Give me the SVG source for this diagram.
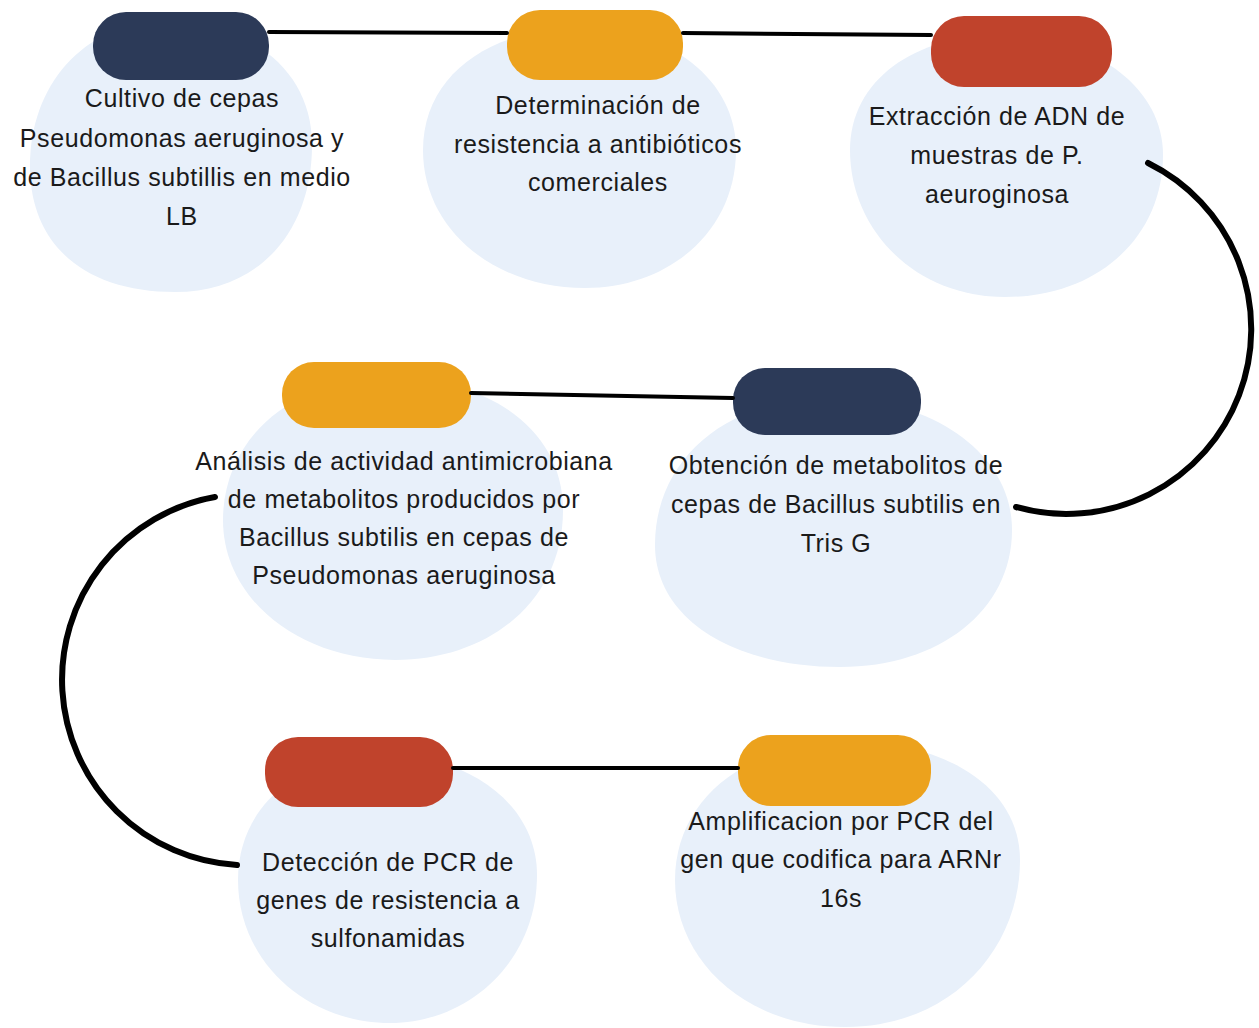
<svg xmlns="http://www.w3.org/2000/svg" width="1259" height="1028" viewBox="0 0 1259 1028">
<style>
.blob{fill:#e8f0fa}
.navy{fill:#2c3a58}
.orange{fill:#eca21d}
.red{fill:#c0432c}
.t{font-family:"Liberation Sans",Arial,sans-serif;font-size:25px;fill:#1a1a1a;text-anchor:middle;letter-spacing:0.6px}
.ln{fill:none;stroke:#000;stroke-width:4;stroke-linecap:round}
.cv{fill:none;stroke:#000;stroke-width:6;stroke-linecap:round}
</style>
<rect width="1259" height="1028" fill="#ffffff"/>
<g id="node1">
<path class="blob" d="M30,170 C28,90 80,22 165,22 C250,22 312,70 312,145 C312,230 260,292 175,292 C90,292 32,250 30,170 Z"/>
<rect class="navy" x="93" y="12" width="176" height="68" rx="33"/>
<text class="t" x="182" y="107">Cultivo de cepas</text>
<text class="t" x="182" y="147">Pseudomonas aeruginosa y</text>
<text class="t" x="182" y="186">de Bacillus subtillis en medio</text>
<text class="t" x="182" y="225">LB</text>
</g>
<g id="node2">
<path class="blob" d="M423,150 C423,75 490,28 580,28 C670,28 736,80 736,150 C736,230 670,288 585,288 C495,288 423,230 423,150 Z"/>
<rect class="orange" x="507" y="10" width="176" height="70" rx="33"/>
<text class="t" x="598" y="114">Determinación de</text>
<text class="t" x="598" y="153">resistencia a antibióticos</text>
<text class="t" x="598" y="191">comerciales</text>
</g>
<g id="node3">
<path class="blob" d="M850,150 C850,80 915,35 1000,35 C1090,35 1163,85 1163,155 C1163,235 1100,297 1005,297 C915,297 850,230 850,150 Z"/>
<rect class="red" x="931" y="16" width="181" height="71" rx="33"/>
<text class="t" x="997" y="125">Extracción de ADN de</text>
<text class="t" x="997" y="164">muestras de P.</text>
<text class="t" x="997" y="203">aeuroginosa</text>
</g>
<g id="node4">
<path class="blob" d="M223,520 C223,440 290,378 390,378 C490,378 563,430 563,510 C563,600 490,660 395,660 C300,660 223,600 223,520 Z"/>
<rect class="orange" x="282" y="362" width="189" height="66" rx="32"/>
<text class="t" x="404" y="470">Análisis de actividad antimicrobiana</text>
<text class="t" x="404" y="508">de metabolitos producidos por</text>
<text class="t" x="404" y="546">Bacillus subtilis en cepas de</text>
<text class="t" x="404" y="584">Pseudomonas aeruginosa</text>
</g>
<g id="node5">
<path class="blob" d="M655,545 C655,460 725,398 830,398 C935,398 1012,455 1012,530 C1012,610 940,667 840,667 C735,667 655,620 655,545 Z"/>
<rect class="navy" x="733" y="368" width="188" height="67" rx="32"/>
<text class="t" x="836" y="474">Obtención de metabolitos de</text>
<text class="t" x="836" y="513">cepas de Bacillus subtilis en</text>
<text class="t" x="836" y="552">Tris G</text>
</g>
<g id="node6">
<path class="blob" d="M238,880 C238,805 300,755 385,755 C470,755 537,805 537,875 C537,960 470,1023 390,1023 C305,1023 238,960 238,880 Z"/>
<rect class="red" x="265" y="737" width="188" height="70" rx="33"/>
<text class="t" x="388" y="871">Detección de PCR de</text>
<text class="t" x="388" y="909">genes de resistencia a</text>
<text class="t" x="388" y="947">sulfonamidas</text>
</g>
<g id="node7">
<path class="blob" d="M675,880 C675,800 745,742 850,742 C950,742 1020,790 1020,860 C1020,950 950,1027 845,1027 C745,1027 675,960 675,880 Z"/>
<rect class="orange" x="738" y="735" width="193" height="71" rx="33"/>
<text class="t" x="841" y="830">Amplificacion por PCR del</text>
<text class="t" x="841" y="868">gen que codifica para ARNr</text>
<text class="t" x="841" y="907">16s</text>
</g>
<g id="connectors">
<path class="ln" d="M269,32 L507,33"/>
<path class="ln" d="M683,33 L931,35"/>
<path class="cv" d="M1148,163 A185,185 0 0 1 1016,507"/>
<path class="ln" d="M471,393 L733,398"/>
<path class="cv" d="M215,497 A185.6,185.6 0 0 0 237,865"/>
<path class="ln" d="M453,768 L738,768"/>
</g>
</svg>
